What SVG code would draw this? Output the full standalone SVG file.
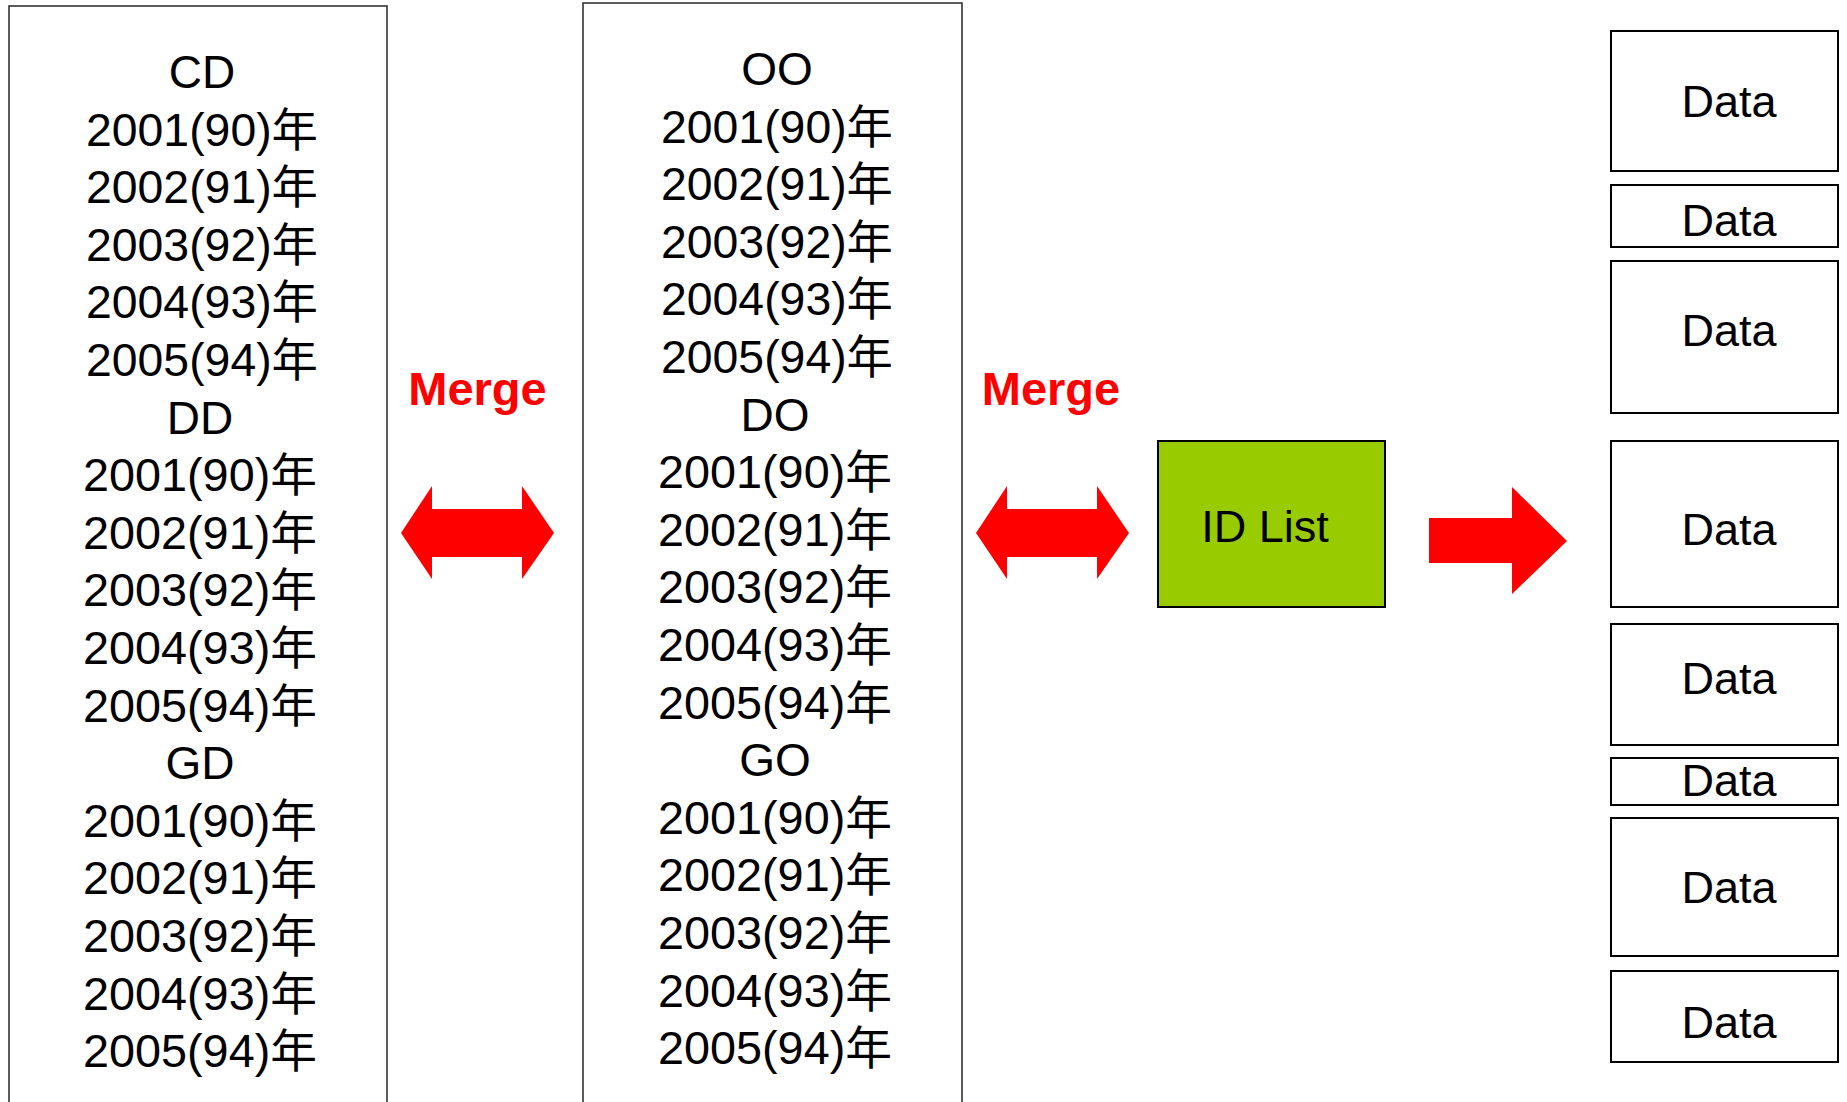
<svg xmlns="http://www.w3.org/2000/svg" width="1847" height="1102" viewBox="0 0 1847 1102">
<style>
.bg{fill:#ffffff}
.col{fill:#ffffff;stroke:#333333;stroke-width:1.6}
.txt{font-family:'Liberation Sans',Arial,'Noto Sans CJK JP',sans-serif;font-size:46px;fill:#000000;text-anchor:middle}
.data{fill:#ffffff;stroke:#000000;stroke-width:2}
.id{fill:#99cc00;stroke:#000000;stroke-width:2}
.merge{font-family:'Liberation Sans',Arial,sans-serif;font-size:47px;font-weight:bold;fill:#ff0000;text-anchor:middle}
.arrow{fill:#ff0000;stroke:none}
</style>
<rect class="bg" x="0" y="0" width="1847" height="1102"/>
<g id="col-left">
<rect class="col" x="9" y="6" width="378" height="1110"/>
<text class="txt" x="202" y="88">CD</text>
<text class="txt" x="202" y="145.6" textLength="232" lengthAdjust="spacingAndGlyphs">2001(90)年</text>
<text class="txt" x="202" y="203.2" textLength="232" lengthAdjust="spacingAndGlyphs">2002(91)年</text>
<text class="txt" x="202" y="260.8" textLength="232" lengthAdjust="spacingAndGlyphs">2003(92)年</text>
<text class="txt" x="202" y="318.4" textLength="232" lengthAdjust="spacingAndGlyphs">2004(93)年</text>
<text class="txt" x="202" y="376" textLength="232" lengthAdjust="spacingAndGlyphs">2005(94)年</text>
<text class="txt" x="200" y="433.6">DD</text>
<text class="txt" x="200" y="491.2" textLength="234" lengthAdjust="spacingAndGlyphs">2001(90)年</text>
<text class="txt" x="200" y="548.8" textLength="234" lengthAdjust="spacingAndGlyphs">2002(91)年</text>
<text class="txt" x="200" y="606.4" textLength="234" lengthAdjust="spacingAndGlyphs">2003(92)年</text>
<text class="txt" x="200" y="664" textLength="234" lengthAdjust="spacingAndGlyphs">2004(93)年</text>
<text class="txt" x="200" y="721.6" textLength="234" lengthAdjust="spacingAndGlyphs">2005(94)年</text>
<text class="txt" x="200" y="779.2">GD</text>
<text class="txt" x="200" y="836.8" textLength="234" lengthAdjust="spacingAndGlyphs">2001(90)年</text>
<text class="txt" x="200" y="894.4" textLength="234" lengthAdjust="spacingAndGlyphs">2002(91)年</text>
<text class="txt" x="200" y="952" textLength="234" lengthAdjust="spacingAndGlyphs">2003(92)年</text>
<text class="txt" x="200" y="1009.6" textLength="234" lengthAdjust="spacingAndGlyphs">2004(93)年</text>
<text class="txt" x="200" y="1067.2" textLength="234" lengthAdjust="spacingAndGlyphs">2005(94)年</text>
</g>
<g id="col-middle">
<rect class="col" x="583" y="3" width="379" height="1110"/>
<text class="txt" x="777" y="85">OO</text>
<text class="txt" x="777" y="142.6" textLength="232" lengthAdjust="spacingAndGlyphs">2001(90)年</text>
<text class="txt" x="777" y="200.2" textLength="232" lengthAdjust="spacingAndGlyphs">2002(91)年</text>
<text class="txt" x="777" y="257.8" textLength="232" lengthAdjust="spacingAndGlyphs">2003(92)年</text>
<text class="txt" x="777" y="315.4" textLength="232" lengthAdjust="spacingAndGlyphs">2004(93)年</text>
<text class="txt" x="777" y="373" textLength="232" lengthAdjust="spacingAndGlyphs">2005(94)年</text>
<text class="txt" x="775" y="430.6">DO</text>
<text class="txt" x="775" y="488.2" textLength="234" lengthAdjust="spacingAndGlyphs">2001(90)年</text>
<text class="txt" x="775" y="545.8" textLength="234" lengthAdjust="spacingAndGlyphs">2002(91)年</text>
<text class="txt" x="775" y="603.4" textLength="234" lengthAdjust="spacingAndGlyphs">2003(92)年</text>
<text class="txt" x="775" y="661" textLength="234" lengthAdjust="spacingAndGlyphs">2004(93)年</text>
<text class="txt" x="775" y="718.6" textLength="234" lengthAdjust="spacingAndGlyphs">2005(94)年</text>
<text class="txt" x="775" y="776.2">GO</text>
<text class="txt" x="775" y="833.8" textLength="234" lengthAdjust="spacingAndGlyphs">2001(90)年</text>
<text class="txt" x="775" y="891.4" textLength="234" lengthAdjust="spacingAndGlyphs">2002(91)年</text>
<text class="txt" x="775" y="949" textLength="234" lengthAdjust="spacingAndGlyphs">2003(92)年</text>
<text class="txt" x="775" y="1006.6" textLength="234" lengthAdjust="spacingAndGlyphs">2004(93)年</text>
<text class="txt" x="775" y="1064.2" textLength="234" lengthAdjust="spacingAndGlyphs">2005(94)年</text>
</g>
<g id="id-list">
<rect class="id" x="1158" y="441" width="227" height="166"/>
<text class="txt" x="1265" y="542" style="font-size:45px">ID List</text>
</g>
<g id="data-1"><rect class="data" x="1611" y="31" width="227" height="140"/><text class="txt" x="1729" y="116.5" style="font-size:45px">Data</text></g>
<g id="data-2"><rect class="data" x="1611" y="185" width="227" height="62"/><text class="txt" x="1729" y="236" style="font-size:45px">Data</text></g>
<g id="data-3"><rect class="data" x="1611" y="261" width="227" height="152"/><text class="txt" x="1729" y="345.5" style="font-size:45px">Data</text></g>
<g id="data-4"><rect class="data" x="1611" y="441" width="227" height="166"/><text class="txt" x="1729" y="544.5" style="font-size:45px">Data</text></g>
<g id="data-5"><rect class="data" x="1611" y="624" width="227" height="121"/><text class="txt" x="1729" y="694" style="font-size:45px">Data</text></g>
<g id="data-6"><rect class="data" x="1611" y="758" width="227" height="47"/><text class="txt" x="1729" y="795.5" style="font-size:45px">Data</text></g>
<g id="data-7"><rect class="data" x="1611" y="818" width="227" height="138"/><text class="txt" x="1729" y="902.5" style="font-size:45px">Data</text></g>
<g id="data-8"><rect class="data" x="1611" y="971" width="227" height="91"/><text class="txt" x="1729" y="1038" style="font-size:45px">Data</text></g>
<g id="connectors">
<text class="merge" x="477.5" y="405">Merge</text>
<text class="merge" x="1051" y="405">Merge</text>
<polygon class="arrow" points="401,533 432,486 432,509 522,509 522,486 554,533 522,579 522,557 432,557 432,579"/>
<polygon class="arrow" points="976,533 1007,486 1007,509 1097,509 1097,486 1129,533 1097,579 1097,557 1007,557 1007,579"/>
<polygon class="arrow" points="1429,518 1512,518 1512,487 1567,541 1512,594 1512,563 1429,563"/>
</g>
</svg>
